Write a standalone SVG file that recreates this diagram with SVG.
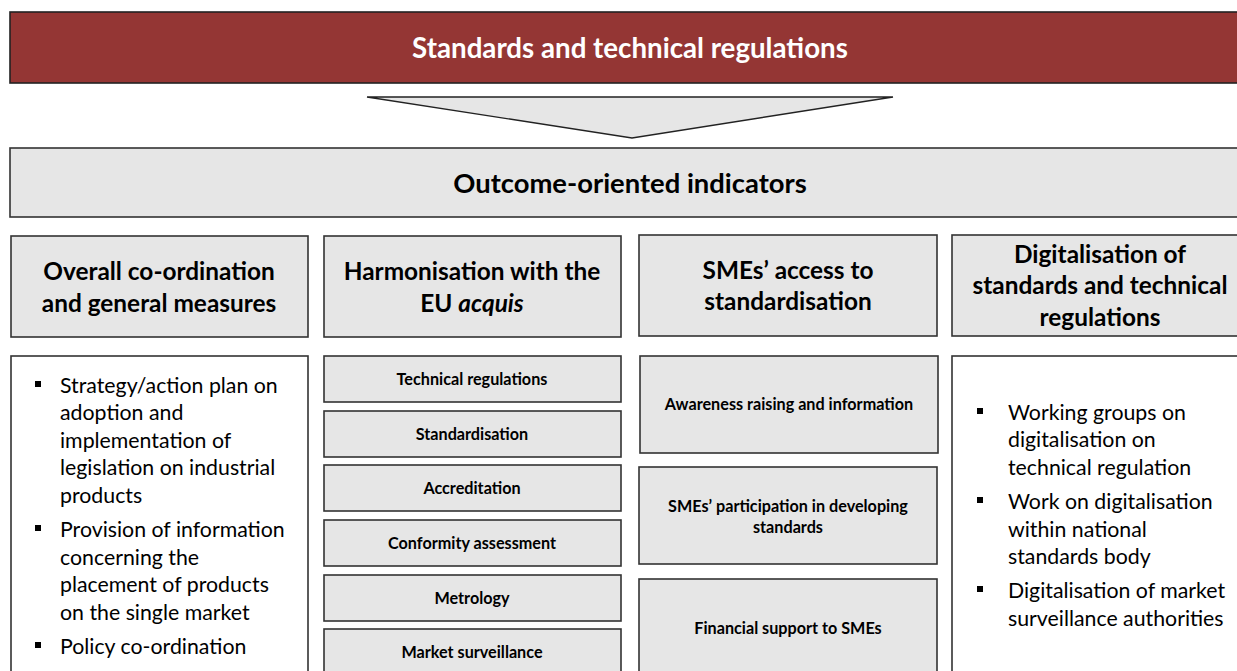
<svg xmlns="http://www.w3.org/2000/svg" width="1237" height="671" viewBox="0 0 1237 671">
<style>
.box{fill:#e6e6e6;stroke:#333;stroke-width:1.6}
.wbox{fill:#fff;stroke:#333;stroke-width:1.6}
.hd{font-family:Lato,"Liberation Sans",sans-serif;font-weight:bold;font-size:24.4px;fill:#000;text-anchor:middle}
.big{font-size:27.4px}
.sm{font-family:Lato,"Liberation Sans",sans-serif;font-weight:bold;font-size:16.2px;fill:#000;text-anchor:middle}
.bl{font-family:Lato,"Liberation Sans",sans-serif;font-size:21.3px;fill:#000}
.sq{fill:#000}
</style>
<rect width="1237" height="671" fill="#fff"/>
<g id="top">
<rect x="10" y="12" width="1240" height="71" fill="#943634" stroke="#222" stroke-width="1.6"/>
<text x="630" y="58" font-family="Lato,'Liberation Sans',sans-serif" font-weight="bold" font-size="27.7" fill="#fff" text-anchor="middle">Standards and technical regulations</text>
</g>
<g id="connectors">
<polygon points="367,97 893,97 632,138" fill="#e6e6e6" stroke="#222" stroke-width="1.4"/>
</g>
<g id="outcome">
<rect x="10" y="148" width="1240" height="69" class="box"/>
<text x="630" y="193" class="hd big">Outcome-oriented indicators</text>
</g>
<g id="h1"><rect x="11" y="236" width="297" height="101" class="box"/>
<text x="159" y="280" class="hd">Overall co-ordination</text><text x="159" y="312" class="hd">and general measures</text></g>
<g id="h2"><rect x="324" y="236" width="297" height="101" class="box"/>
<text x="472" y="280" class="hd">Harmonisation with the</text><text x="472" y="312" class="hd">EU <tspan font-style="italic">acquis</tspan></text></g>
<g id="h3"><rect x="639" y="235" width="298" height="101" class="box"/>
<text x="788" y="279" class="hd">SMEs’ access to</text><text x="788" y="310" class="hd">standardisation</text></g>
<g id="h4"><rect x="952" y="235" width="290" height="101" class="box"/>
<text x="1100" y="263" class="hd">Digitalisation of</text><text x="1100" y="294" class="hd">standards and technical</text><text x="1100" y="326" class="hd">regulations</text></g>
<g id="b1"><rect x="11" y="356" width="297" height="330" class="wbox"/>
<rect x="35" y="381" width="6" height="6" class="sq"/>
<rect x="35" y="525" width="6" height="6" class="sq"/>
<rect x="35" y="642" width="6" height="6" class="sq"/>
<text class="bl" x="60" y="393">Strategy/action plan on</text>
<text class="bl" x="60" y="420">adoption and</text>
<text class="bl" x="60" y="448">implementation of</text>
<text class="bl" x="60" y="475">legislation on industrial</text>
<text class="bl" x="60" y="503">products</text>
<text class="bl" x="60" y="537">Provision of information</text>
<text class="bl" x="60" y="565">concerning the</text>
<text class="bl" x="60" y="592">placement of products</text>
<text class="bl" x="60" y="620">on the single market</text>
<text class="bl" x="60" y="654">Policy co-ordination</text>
</g>
<g id="b2a"><rect x="324" y="356" width="297" height="46" class="box"/><text x="472" y="385" class="sm">Technical regulations</text></g>
<g id="b2b"><rect x="324" y="411" width="297" height="46" class="box"/><text x="472" y="440" class="sm">Standardisation</text></g>
<g id="b2c"><rect x="324" y="465" width="297" height="46" class="box"/><text x="472" y="494" class="sm">Accreditation</text></g>
<g id="b2d"><rect x="324" y="520" width="297" height="46" class="box"/><text x="472" y="549" class="sm">Conformity assessment</text></g>
<g id="b2e"><rect x="324" y="575" width="297" height="46" class="box"/><text x="472" y="604" class="sm">Metrology</text></g>
<g id="b2f"><rect x="324" y="629" width="297" height="60" class="box"/><text x="472" y="658" class="sm">Market surveillance</text></g>
<g id="b3a"><rect x="640" y="356" width="298" height="97" class="box"/><text x="789" y="410" class="sm">Awareness raising and information</text></g>
<g id="b3b"><rect x="639" y="467" width="298" height="97" class="box"/><text x="788" y="512" class="sm">SMEs’ participation in developing</text><text x="788" y="533" class="sm">standards</text></g>
<g id="b3c"><rect x="639" y="579" width="298" height="110" class="box"/><text x="788" y="634" class="sm">Financial support to SMEs</text></g>
<g id="b4"><rect x="952" y="356" width="290" height="330" class="wbox"/>
<rect x="977" y="408" width="6" height="6" class="sq"/>
<rect x="977" y="497" width="6" height="6" class="sq"/>
<rect x="977" y="586" width="6" height="6" class="sq"/>
<text class="bl" x="1008" y="420">Working groups on</text>
<text class="bl" x="1008" y="447">digitalisation on</text>
<text class="bl" x="1008" y="475">technical regulation</text>
<text class="bl" x="1008" y="509">Work on digitalisation</text>
<text class="bl" x="1008" y="537">within national</text>
<text class="bl" x="1008" y="564">standards body</text>
<text class="bl" x="1008" y="598">Digitalisation of market</text>
<text class="bl" x="1008" y="626">surveillance authorities</text>
</g>
</svg>
